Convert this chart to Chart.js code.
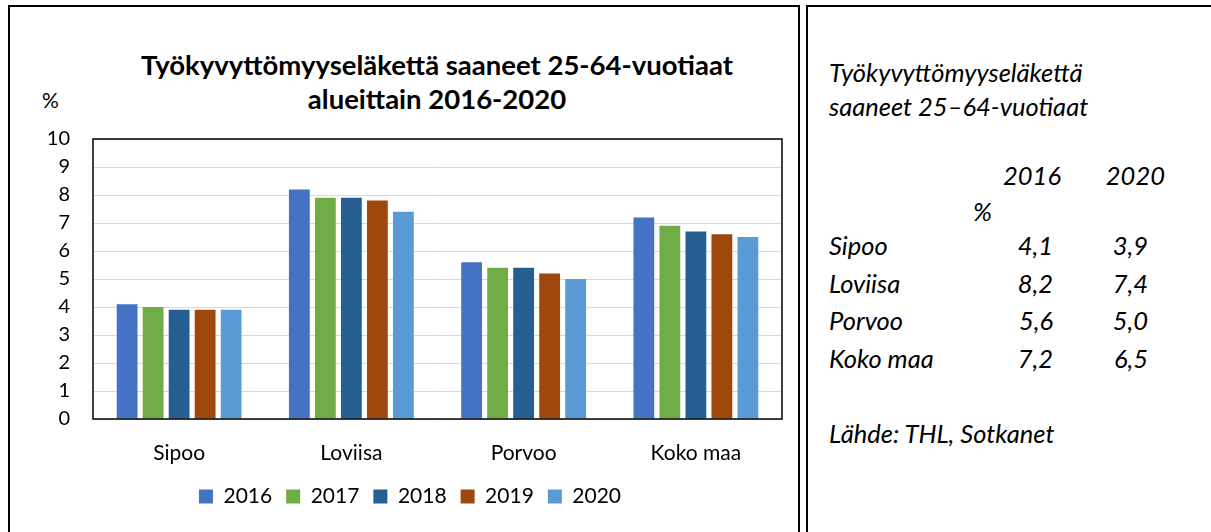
<!DOCTYPE html>
<html lang="fi">
<head>
<meta charset="utf-8">
<title>Työkyvyttömyyseläkettä saaneet</title>
<script src="https://cdn.jsdelivr.net/npm/chart.js@4.4.0/dist/chart.umd.min.js"></script>
<style>
  body { margin: 0; width: 1211px; height: 532px; overflow: hidden; position: relative; background: #fff; font-family: Lato, "Noto Sans", sans-serif; color: #000; }
  .frame { position: absolute; border: 2px solid #000; box-sizing: border-box; }
  #leftFrame { left: 8px; top: 5px; width: 792px; height: 560px; }
  #rightFrame { left: 806px; top: 5px; width: 430px; height: 560px; }
  #chartWrap { position: absolute; left: 0; top: 0; width: 820px; height: 532px; }
  #chartTitle { position: absolute; left: 87px; top: 48px; width: 700px; text-align: center; font-weight: bold; font-size: 27.5px; line-height: 34px; }
  #unit { position: absolute; left: 42px; top: 88px; font-size: 21px; line-height: 24px; }
  .t { position: absolute; font-style: italic; font-size: 25.5px; line-height: 30px; white-space: nowrap; }
  .r { text-align: right; }
</style>
</head>
<body>
<div class="frame" id="leftFrame"></div>
<div class="frame" id="rightFrame"></div>
<div id="chartTitle">Työkyvyttömyyseläkettä saaneet 25-64-vuotiaat<br>alueittain 2016-2020</div>
<div id="unit">%</div>
<div id="chartWrap"><canvas id="chart" width="820" height="532"></canvas></div>
<div id="side"></div>

<script>
// Alueet ja vuodet
const categories = ['Sipoo', 'Loviisa', 'Porvoo', 'Koko maa'];
const years = ['2016', '2017', '2018', '2019', '2020'];

// Osuus 25-64-vuotiaista, %
const v2016 = [4.1, 8.2, 5.6, 7.2];
const v2017 = [4.0, 7.9, 5.4, 6.9];
const v2018 = [3.9, 7.9, 5.4, 6.7];
const v2019 = [3.9, 7.8, 5.2, 6.6];
const v2020 = [3.9, 7.4, 5.0, 6.5];

const yMin = 0;
const yMax = 10;
const yStep = 1;

const seriesValues = [v2016, v2017, v2018, v2019, v2020];
const colors = ['#4472C4', '#70AD47', '#255E91', '#9E480E', '#5B9BD5'];

// kehys piirtoalueen ympärille
const plotFrame = {
    id: 'plotFrame',
    afterDraw(chart) {
        const { ctx, chartArea: a } = chart;
        ctx.save();
        ctx.strokeStyle = '#000';
        ctx.lineWidth = 1.5;
        ctx.strokeRect(a.left, a.top, a.right - a.left, a.bottom - a.top);
        ctx.restore();
    }
};

new Chart(document.getElementById('chart'), {
    type: 'bar',
    data: {
        labels: categories,
        datasets: years.map((y, i) => ({
            label: y,
            data: seriesValues[i],
            backgroundColor: colors[i],
            categoryPercentage: 0.755,
            barPercentage: 0.8
        }))
    },
    options: {
        responsive: false,
        animation: false,
        layout: { padding: { top: 139, right: 38, left: 38, bottom: 15 } },
        plugins: {
            legend: {
                position: 'bottom',
                labels: {
                    color: '#000',
                    boxWidth: 14,
                    boxHeight: 14,
                    padding: 14,
                    font: { family: 'Lato', size: 21 }
                }
            },
            tooltip: { enabled: false }
        },
        scales: {
            x: {
                grid: { display: false },
                border: { display: false },
                ticks: { color: '#000', padding: 14, font: { family: 'Lato', size: 21 } },
                afterFit(scale) { scale.height = 53; }
            },
            y: {
                min: yMin,
                max: yMax,
                grid: { color: '#d9d9d9', drawTicks: false },
                border: { display: false },
                ticks: { stepSize: yStep, color: '#000', padding: 23, font: { family: 'Lato', size: 20 } },
                afterFit(scale) { scale.width = 55; }
            }
        }
    },
    plugins: [plotFrame]
});

// taulukko oikealle: ensimmäinen ja viimeinen vuosi
const side = document.getElementById('side');
function put(text, x, cy, right) {
    const el = document.createElement('div');
    el.className = 't' + (right ? ' r' : '');
    el.textContent = text;
    el.style.top = (cy - 15) + 'px';
    if (right) { el.style.left = (x - 200) + 'px'; el.style.width = '200px'; }
    else { el.style.left = x + 'px'; }
    side.appendChild(el);
}
const fmt = v => v.toFixed(1).replace('.', ',');

put('Työkyvyttömyyseläkettä', 829, 72);
put('saaneet 25–64-vuotiaat', 829, 106);
put(years[0], 1061, 175, true);
put(years[years.length - 1], 1165, 175, true);
put('%', 973, 211);
const rowY = [245, 283, 320, 358];
categories.forEach((c, i) => {
    put(c, 829, rowY[i]);
    put(fmt(v2016[i]), 1053, rowY[i], true);
    put(fmt(v2020[i]), 1148, rowY[i], true);
});
put('Lähde: THL, Sotkanet', 829, 433);
</script>
</body>
</html>
